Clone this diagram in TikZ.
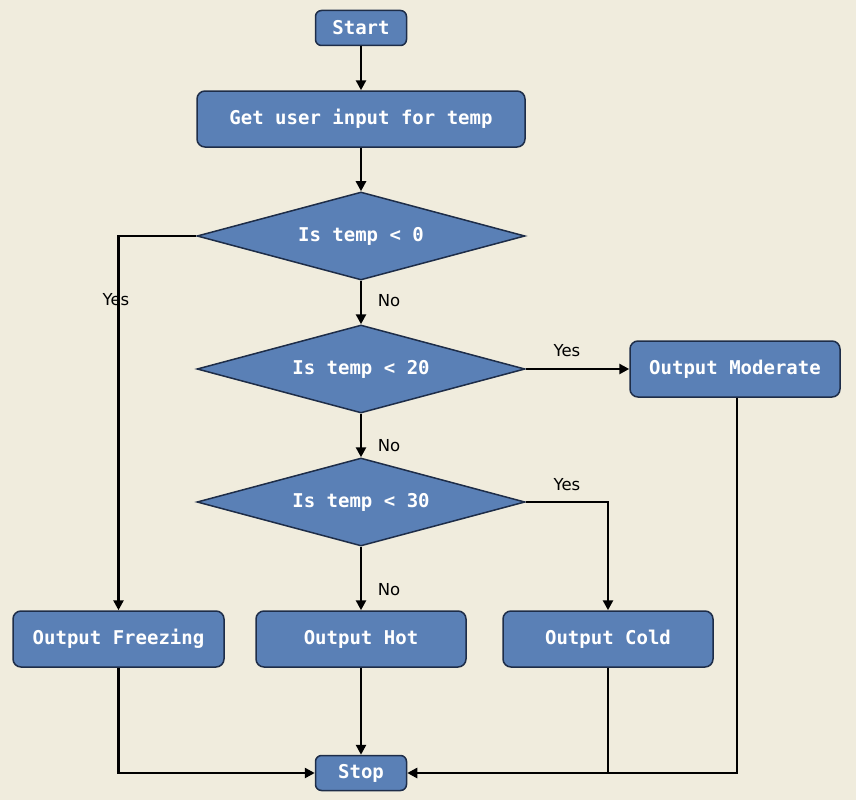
\documentclass[tikz,border=0pt]{standalone}
\usepackage{fontspec}
\setmainfont{DejaVu Sans}
\newfontfamily\monof{DejaVu Sans Mono}
\usetikzlibrary{shapes.geometric,arrows.meta,positioning}
\definecolor{bgc}{HTML}{F0ECDD}
\definecolor{boxc}{HTML}{5A80B6}
\definecolor{edgec}{HTML}{1E2D48}
\tikzset{
  every picture/.style={x=1pt,y=-1pt},
  boxbase/.style={draw=edgec, fill=boxc, line width=1.5pt, text=white,
    font=\monof\bfseries\fontsize{19}{21}\selectfont, inner sep=0pt},
  procbox/.style={boxbase, rectangle, rounded corners=8pt, minimum width=210pt, minimum height=56pt},
  termbox/.style={boxbase, rectangle, rounded corners=6pt, minimum width=91pt, minimum height=35pt},
  decbox/.style={boxbase, diamond, aspect=3.727, minimum width=328pt, minimum height=88pt},
  conn/.style={line width=2.8pt, draw=black},
  arr/.style={conn, -{Triangle[length=10pt,width=10pt]}},
  lbl/.style={font=\fontsize{16.5}{18}\selectfont, text=black, inner sep=0pt}
}
\begin{document}
\begin{tikzpicture}
\fill[bgc] (0,0) rectangle (856,800);
\useasboundingbox (0,0) rectangle (856,800);

\node[termbox] (start) at (361,28) {Start};
\node[procbox, minimum width=328pt] (input) at (361,119) {Get user input for temp};
\node[decbox, shape aspect=3.727] (d1) at (361,236) {Is temp < 0};
\node[decbox, shape aspect=3.727] (d2) at (361,369) {Is temp < 20};
\node[decbox, shape aspect=3.727] (d3) at (361,502) {Is temp < 30};
\node[procbox] (mod) at (735,369) {Output Moderate};
\node[procbox, minimum width=211pt] (frz) at (118.5,639) {Output Freezing};
\node[procbox] (hot) at (361,639) {Output Hot};
\node[procbox] (cold) at (608,639) {Output Cold};
\node[termbox] (stop) at (361,773) {Stop};

\coordinate (c1) at (118.5,236);
\coordinate (c3) at (608,502);
\coordinate (cf) at (118.5,773);
\coordinate (cc) at (608,773);
\coordinate (cm) at (737,773);

\draw[arr] (start) -- (input);
\draw[arr] (input) -- (d1);
\draw[arr] (d1.west) -- (c1) -- (frz.north);
\draw[arr] (d1) -- (d2);
\draw[arr] (d2.east) -- (mod.west);
\draw[arr] (d2) -- (d3);
\draw[arr] (d3.east) -- (c3) -- (cold.north);
\draw[arr] (d3) -- (hot);
\draw[arr] (frz.south) -- (cf) -- (stop.west);
\draw[arr] (hot) -- (stop);
\draw[conn] (cold.south) -- (cc);
\draw[arr] (mod.south -| cm) -- (cm) -- (stop.east);

\node[lbl] (l1) at (116,300) {Yes};
\node[lbl] (l2) at (389,301) {No};
\node[lbl] (l3) at (567,351) {Yes};
\node[lbl] (l4) at (389,446) {No};
\node[lbl] (l5) at (567,485) {Yes};
\node[lbl] (l6) at (389,590) {No};
\end{tikzpicture}
\end{document}
